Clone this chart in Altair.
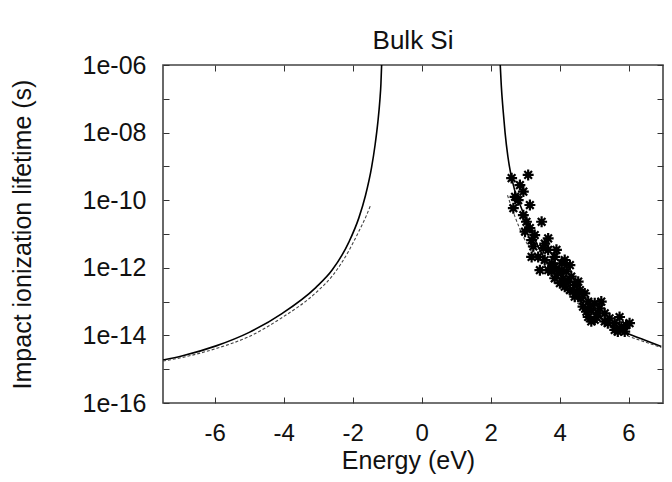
import altair as alt
import pandas as pd

# ---- data ----
left_solid_E = [-7.5, -6.93, -5.96, -5.0, -4.04, -3.07, -2.59, -2.11, -1.82, -1.63, -1.45, -1.35, -1.27, -1.21,
                -1.18, -1.16]
left_solid_tau = [1.86e-15, 2.5e-15, 4.9e-15, 1.23e-14, 4.5e-14, 2.6e-13, 8.7e-13, 5.75e-12, 3.0e-11, 1.35e-10,
                  9.5e-10, 4.3e-9, 2.0e-8, 9.3e-8, 2.8e-7, 1.0e-6]

right_solid_E = [2.28, 2.31, 2.36, 2.42, 2.50, 2.61, 2.90, 3.19, 3.48, 4.0, 4.5, 5.0, 5.5, 6.0, 6.5, 6.95]
right_solid_tau = [1.0e-6, 2.5e-7, 5.0e-8, 1.0e-8, 2.0e-9, 4.5e-10, 5.6e-11, 1.12e-11, 2.7e-12, 4.5e-13,
                   1.26e-13, 4.5e-14, 2.0e-14, 1.12e-14, 7.1e-15, 4.7e-15]

left_dash_E = [-7.5, -6.93, -5.96, -5.0, -4.04, -3.07, -2.59, -2.11, -1.82, -1.6, -1.47]
left_dash_tau = [1.74e-15, 2.24e-15, 4.1e-15, 9.3e-15, 3.4e-14, 1.82e-13, 5.75e-13, 3.2e-12, 1.2e-11, 3.55e-11,
                 7.6e-11]

right_dash_E = [2.49, 2.71, 2.95, 3.5, 4.0, 4.5, 5.0, 5.5, 6.0, 6.5, 6.95]
right_dash_tau = [1.4e-10, 3.2e-11, 8.3e-12, 1.4e-12, 3.2e-13, 9.5e-14, 3.5e-14, 1.66e-14, 9.5e-15, 6.3e-15, 4.4e-15]

scatter_E = [2.61, 3.09, 2.85, 2.80, 3.14, 2.95, 3.48, 3.14, 3.67, 3.19, 3.91, 3.38, 3.57, 3.19, 3.77,
             4.06, 3.67, 3.96, 4.20, 3.86, 4.10, 3.43, 4.25, 4.44, 4.15, 4.59, 4.73, 4.44, 4.83, 5.02,
             4.68, 4.92, 5.16, 5.07, 4.83, 5.31, 5.45, 4.92, 5.60, 5.74, 5.79, 6.03, 5.60, 5.89, 5.31,
             5.21, 4.54, 4.30, 3.53, 3.24, 3.00, 2.71, 2.66, 3.67, 3.86, 4.06, 3.77, 4.34, 4.01, 4.63,
             4.30, 5.11, 4.78, 5.40, 5.69, 5.02, 3.28, 3.57, 3.04, 2.95, 3.86, 4.15, 4.49, 4.87, 5.93]
scatter_tau = [4.5e-10, 5.6e-10, 2.8e-10, 1.0e-10, 7.2e-11, 3.6e-11, 2.3e-11, 1.5e-11, 7.4e-12, 6.6e-12,
               3.4e-12, 2.1e-12, 1.7e-12, 2.1e-12, 1.35e-12, 1.35e-12, 8.5e-13, 6.9e-13, 7.8e-13, 4.9e-13,
               4.9e-13, 8.5e-13, 3.9e-13, 3.1e-13, 2.75e-13, 2.2e-13, 1.74e-13, 1.4e-13, 1.0e-13, 8.9e-14,
               7.1e-14, 5.6e-14, 6.3e-14, 3.5e-14, 3.5e-14, 4.5e-14, 3.2e-14, 2.6e-14, 2.3e-14, 3.5e-14,
               1.8e-14, 2.3e-14, 1.45e-14, 1.3e-14, 2.6e-14, 1.0e-13, 3.9e-13, 1.2e-12, 3.8e-12, 4.3e-12,
               1.17e-11, 1.26e-10, 5.8e-11, 3.4e-12, 2.1e-12, 8.5e-13, 7.8e-13, 5.5e-13, 3.5e-13, 1.26e-13,
               2.2e-13, 4.5e-14, 5.0e-14, 2.3e-14, 1.3e-14, 2.9e-14, 9.3e-12, 5.2e-12, 2.3e-11, 1.8e-10,
               1.07e-12, 1.7e-12, 1.95e-13, 7.1e-14, 2.0e-14]

x_ticks = [-6, -4, -2, 0, 2, 4, 6]
y_ticks = [1e-6, 1e-7, 1e-8, 1e-9, 1e-10, 1e-11, 1e-12, 1e-13, 1e-14, 1e-15, 1e-16]


def curve(E, tau, name):
    return pd.DataFrame({"E": E, "tau": tau, "branch": name, "order": range(len(E))})


solid = pd.concat([curve(left_solid_E, left_solid_tau, "L"), curve(right_solid_E, right_solid_tau, "R")])
dashed = pd.concat([curve(left_dash_E, left_dash_tau, "L"), curve(right_dash_E, right_dash_tau, "R")])
pts = pd.DataFrame({"E": scatter_E, "tau": scatter_tau})

FONT = "Liberation Sans"
xscale = alt.Scale(domain=[-7.5, 7], nice=False, zero=False)
yscale = alt.Scale(type="log", domain=[1e-16, 1e-6], nice=False)

exp_ = "round(log(datum.value)/LN10)"
y_label_expr = (f"({exp_} % 2 == 0) ? ('1e-' + (abs({exp_}) < 10 ? '0' : '') + abs({exp_})) : ''")
x_label_expr = "(datum.value < 0 ? '-' : '') + abs(datum.value)"

common_axis = dict(domain=False, grid=False, tickColor="#333", tickWidth=1, tickSize={"expr": "-6"},
                   labelFont=FONT, labelColor="#111", titleFont=FONT, titleColor="#111",
                   titleFontWeight="normal")

x_bottom = alt.Axis(values=x_ticks, labelExpr=x_label_expr, labelFontSize=24, labelPadding=24,
                    title="Energy (eV)", titleFontSize=25, titleX=245, titleY=57,
                    titleBaseline="middle", **common_axis)
y_left = alt.Axis(values=y_ticks, labelExpr=y_label_expr, labelFontSize=25, labelPadding=23,
                  labelBaseline="middle", title="Impact ionization lifetime (s)", titleFontSize=25,
                  titleX=-141, titleY=169, titleAngle=-90, titleAlign="center", titleBaseline="middle",
                  **common_axis)
x_top = alt.Axis(values=x_ticks, orient="top", labels=False, title=None, **common_axis)
y_right = alt.Axis(values=y_ticks, orient="right", labels=False, title=None, **common_axis)

solid_layer = alt.Chart(solid).mark_line(color="black", strokeWidth=1.6, interpolate="monotone", clip=True).encode(
    x=alt.X("E:Q", scale=xscale, axis=x_bottom),
    y=alt.Y("tau:Q", scale=yscale, axis=y_left),
    detail="branch:N",
    order="order:Q",
)

dash_layer = alt.Chart(dashed).mark_line(color="#444", strokeWidth=1.1, strokeDash=[3, 2],
                                         interpolate="monotone", clip=True).encode(
    x=alt.X("E:Q", scale=xscale, axis=x_top),
    y=alt.Y("tau:Q", scale=yscale, axis=y_right),
    detail="branch:N",
    order="order:Q",
)

star = "M-1,0L1,0M0,-1L0,1M-0.7,-0.7L0.7,0.7M-0.7,0.7L0.7,-0.7"
pts_layer = alt.Chart(pts).mark_point(shape=star, filled=False, color="black", strokeWidth=2.2, size=120,
                                      opacity=1, clip=True).encode(
    x=alt.X("E:Q", scale=xscale, axis=None),
    y=alt.Y("tau:Q", scale=yscale, axis=None),
)

chart = alt.layer(solid_layer, dash_layer, pts_layer).resolve_axis(
    x="independent", y="independent"
).properties(
    width=500, height=338,
    title=alt.TitleParams("Bulk Si", font=FONT, fontSize=26, fontWeight="normal", color="#111",
                          anchor="middle", offset=-1),
    padding={"left": 155, "top": 57, "right": 1, "bottom": 71},
    autosize=alt.AutoSizeParams(type="none"),
).configure_view(stroke="#444", strokeWidth=1.6)

chart.save("out.html", embed_options={"renderer": "svg", "actions": False})
